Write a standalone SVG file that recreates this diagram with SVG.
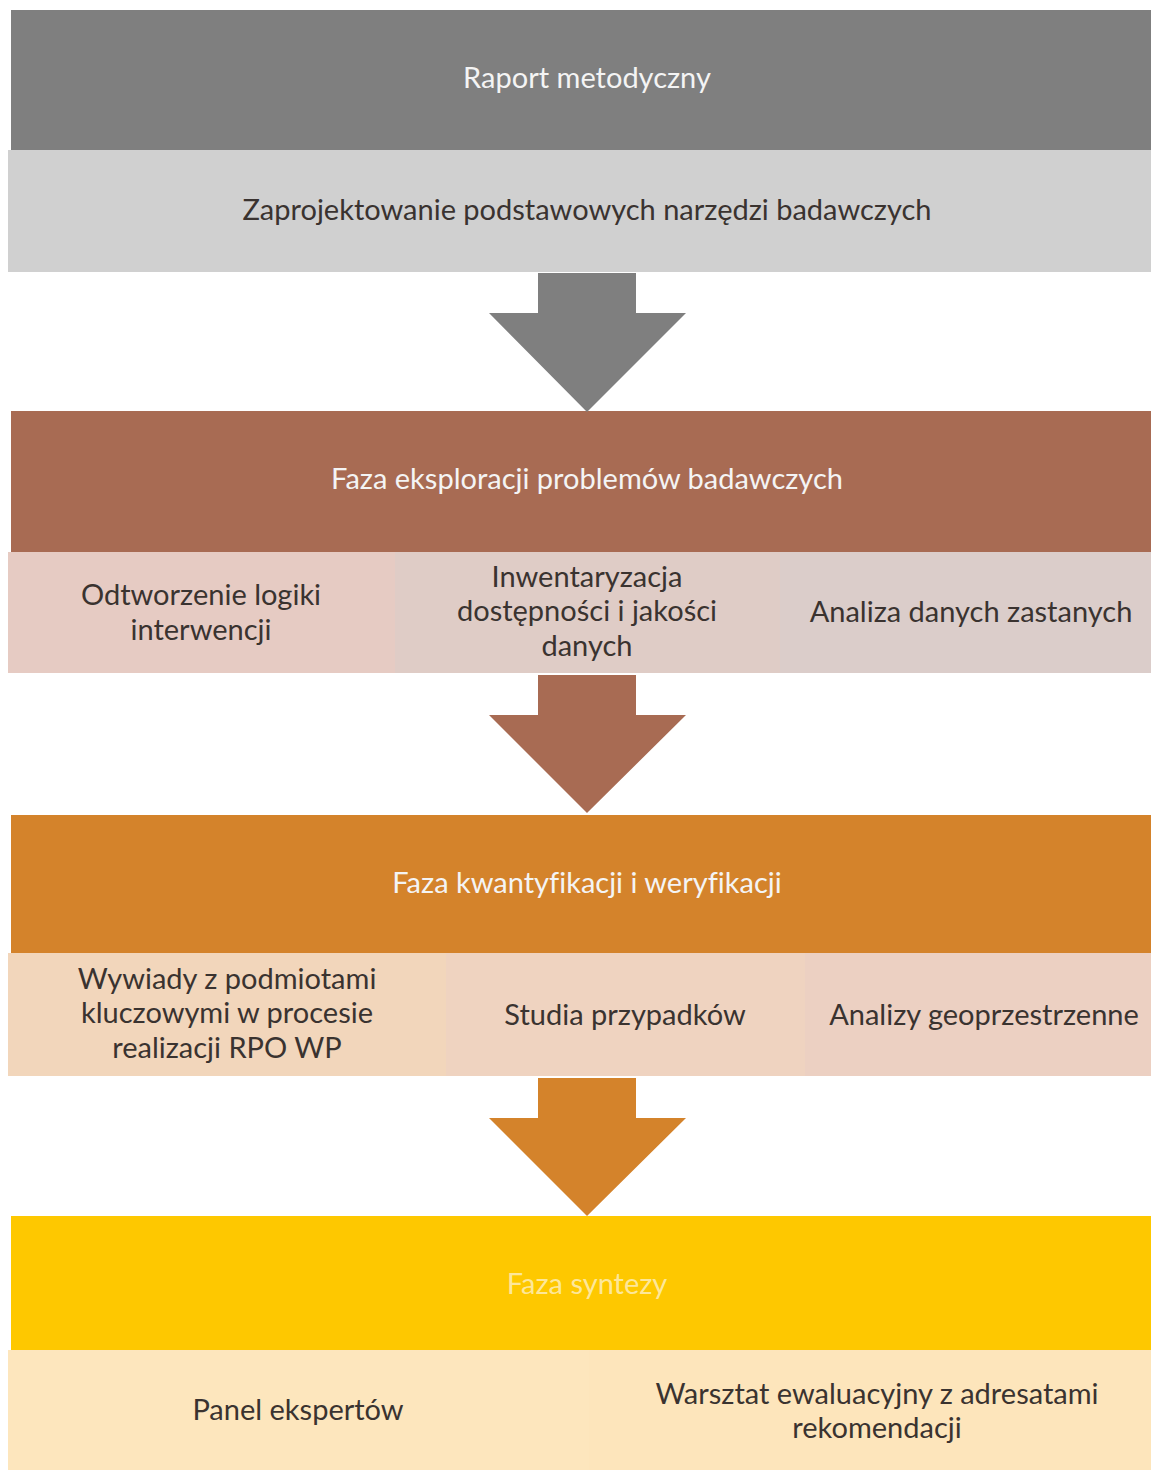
<svg xmlns="http://www.w3.org/2000/svg" width="1151" height="1470" viewBox="0 0 1151 1470">
<style>
text{font-family:Lato,"Open Sans","Liberation Sans",sans-serif;font-size:29px;text-anchor:middle;font-variant-ligatures:none}
.w{fill:#f4f4f4}
.d{fill:#3a3330}
</style>
<rect width="1151" height="1470" fill="#ffffff"/>
<g id="raport"><rect x="11" y="10" width="1140" height="140" fill="#7f7f7f"/><text class="w" x="587" y="88">Raport metodyczny</text></g>
<g id="zaprojektowanie"><rect x="8" y="150" width="1143" height="122" fill="#d0d0d0"/><text class="d" x="587" y="220">Zaprojektowanie podstawowych narzędzi badawczych</text></g>
<g id="faza-eksploracji"><rect x="11" y="411" width="1140" height="141" fill="#a86b53"/><text class="w" x="587" y="489">Faza eksploracji problemów badawczych</text></g>
<g id="odtworzenie"><rect x="8" y="552" width="387" height="121" fill="#e6cbc3"/><text class="d" x="201" y="605">Odtworzenie logiki</text><text class="d" x="201" y="640">interwencji</text></g>
<g id="inwentaryzacja"><rect x="395" y="552" width="385" height="121" fill="#dfccc6"/><text class="d" x="587" y="587">Inwentaryzacja</text><text class="d" x="587" y="621">dostępności i jakości</text><text class="d" x="587" y="656">danych</text></g>
<g id="analiza"><rect x="780" y="552" width="371" height="121" fill="#dbcdca"/><text class="d" x="971" y="622">Analiza danych zastanych</text></g>
<g id="faza-kwantyfikacji"><rect x="11" y="815" width="1140" height="138" fill="#d4832b"/><text class="w" x="587" y="893">Faza kwantyfikacji i weryfikacji</text></g>
<g id="wywiady"><rect x="8" y="953" width="438" height="123" fill="#f2d6bb"/><text class="d" x="227" y="989">Wywiady z podmiotami</text><text class="d" x="227" y="1023">kluczowymi w procesie</text><text class="d" x="227" y="1058">realizacji RPO WP</text></g>
<g id="studia"><rect x="446" y="953" width="359" height="123" fill="#efd3c0"/><text class="d" x="625" y="1025">Studia przypadków</text></g>
<g id="analizy"><rect x="805" y="953" width="346" height="123" fill="#ecd0c2"/><text class="d" x="984" y="1025">Analizy geoprzestrzenne</text></g>
<g id="faza-syntezy"><rect x="11" y="1216" width="1140" height="134" fill="#fec800"/><text x="587" y="1294" fill="#fde79a">Faza syntezy</text></g>
<g id="panel"><rect x="8" y="1350" width="581" height="120" fill="#fde6bd"/><text class="d" x="298" y="1420">Panel ekspertów</text></g>
<g id="warsztat"><rect x="589" y="1350" width="562" height="120" fill="#fde5bb"/><text class="d" x="877" y="1404">Warsztat ewaluacyjny z adresatami</text><text class="d" x="877" y="1438">rekomendacji</text></g>
<g id="connectors">
<polygon points="538,273 636,273 636,313 686,313 587,412 489,313 538,313" fill="#7f7f7f"/>
<polygon points="538,675 636,675 636,715 686,715 587,813 489,715 538,715" fill="#a86b53"/>
<polygon points="538,1078 636,1078 636,1118 686,1118 587,1216 489,1118 538,1118" fill="#d4832b"/>
</g>
</svg>
